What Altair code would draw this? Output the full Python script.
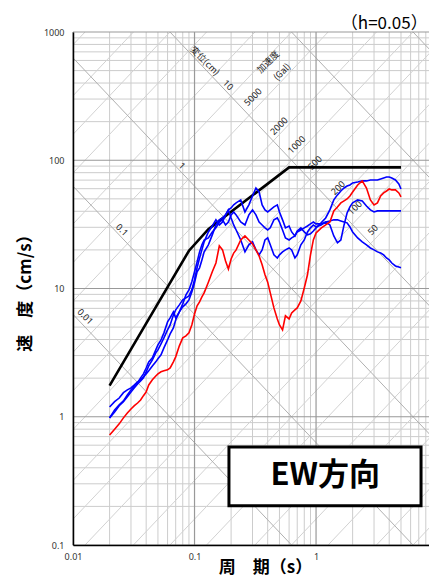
import math
import altair as alt
import pandas as pd

# ---------------- data ----------------
PERIODS = [0.02, 0.022, 0.024, 0.026, 0.028, 0.03, 0.032, 0.034, 0.036, 0.038,
           0.04, 0.042, 0.045, 0.048, 0.05, 0.053, 0.056, 0.06, 0.063, 0.067,
           0.07, 0.075, 0.08, 0.085, 0.09, 0.095, 0.1, 0.105, 0.11, 0.115,
           0.12, 0.13, 0.14, 0.15, 0.16, 0.17, 0.18, 0.19, 0.2, 0.21,
           0.22, 0.24, 0.26, 0.28, 0.3, 0.32, 0.34, 0.36, 0.38, 0.4,
           0.42, 0.45, 0.48, 0.5, 0.53, 0.56, 0.6, 0.63, 0.67, 0.7,
           0.75, 0.8, 0.85, 0.9, 0.95, 1.0, 1.1, 1.2, 1.3, 1.4,
           1.5, 1.6, 1.7, 1.8, 1.9, 2.0, 2.2, 2.4, 2.6, 2.8,
           3.0, 3.2, 3.4, 3.6, 3.8, 4.0, 4.2, 4.5, 4.8, 5.0]

RED = [0.72, 0.80, 0.88, 0.98, 1.07, 1.15, 1.22, 1.28, 1.35, 1.46,
       1.56, 1.77, 1.94, 2.08, 2.16, 2.24, 2.28, 2.32, 2.40, 2.68,
       2.93, 3.57, 4.12, 4.27, 4.51, 5.20, 6.34, 7.32, 7.86, 8.60,
       9.24, 11.2, 13.5, 15.8, 21.5, 20.0, 16.4, 14.2, 17.0, 18.9,
       20.0, 23.9, 25.7, 23.9, 22.3, 20.0, 17.9, 15.3, 12.8, 11.2,
       9.24, 7.06, 5.79, 5.20, 4.76, 6.12, 5.79, 6.45, 6.81, 7.06,
       8.00, 10.1, 12.8, 18.3, 23.9, 27.1, 29.6, 31.3, 33.0, 40.2,
       43.2, 46.5, 48.2, 49.9, 52.7, 56.6, 64.2, 69.0, 60.8, 49.0,
       44.8, 46.5, 52.7, 55.6, 57.6, 59.7, 58.7, 58.7, 55.6, 51.8]

BLUE_1 = [1.19, 1.31, 1.40, 1.54, 1.62, 1.68, 1.77, 1.87, 1.94, 2.05,
          2.16, 2.28, 2.49, 2.68, 2.83, 3.04, 3.44, 3.97, 4.43, 4.93,
          5.69, 6.57, 7.19, 7.59, 8.15, 9.40, 11.1, 13.5, 14.5, 16.7,
          19.3, 21.9, 26.2, 31.3, 34.3, 35.5, 37.5, 41.0, 42.5, 44.9,
          46.5, 49.1, 39.5, 44.9, 52.7, 60.8, 56.6, 44.9, 41.0, 39.5,
          41.0, 43.3, 44.9, 39.5, 34.3, 29.7, 30.7, 27.6, 25.7, 28.1,
          29.7, 27.6, 26.2, 26.7, 28.1, 29.7, 32.5, 35.5, 41.0, 49.1,
          53.7, 57.6, 60.8, 63.0, 64.2, 66.5, 67.7, 69.0, 69.0, 70.2,
          70.2, 70.2, 71.5, 72.8, 74.1, 74.1, 72.8, 70.2, 65.3, 59.7]

BLUE_2 = [0.98, 1.09, 1.22, 1.31, 1.43, 1.56, 1.68, 1.80, 1.90, 2.01,
          2.24, 2.49, 2.78, 3.15, 3.32, 3.70, 4.12, 4.76, 5.20, 6.22,
          6.81, 7.45, 8.15, 8.45, 8.75, 9.75, 11.7, 14.5, 17.3, 20.0,
          23.1, 27.6, 30.7, 34.3, 31.3, 33.0, 37.5, 41.0, 35.5, 31.3,
          28.6, 23.9, 19.3, 21.9, 23.1, 20.0, 18.3, 20.0, 23.9, 24.8,
          21.9, 18.3, 17.3, 18.3, 19.3, 20.0, 20.7, 20.0, 17.3, 18.3,
          21.9, 23.9, 27.6, 29.7, 31.3, 30.2, 31.3, 33.0, 31.3, 25.7,
          22.7, 23.9, 31.3, 38.8, 43.3, 46.5, 49.1, 48.2, 44.0, 41.0,
          39.5, 40.3, 40.3, 40.3, 40.3, 40.3, 40.3, 40.3, 40.3, 40.3]

BLUE_3 = [0.98, 1.13, 1.24, 1.33, 1.48, 1.62, 1.74, 1.84, 2.01, 2.16,
          2.40, 2.68, 2.88, 3.32, 3.63, 3.97, 4.51, 5.49, 5.90, 6.57,
          5.90, 6.57, 7.59, 8.91, 9.75, 11.3, 13.5, 16.1, 19.3, 21.9,
          23.9, 24.8, 27.6, 29.7, 33.0, 34.3, 31.3, 33.0, 37.5, 39.5,
          37.5, 33.0, 31.3, 37.5, 41.0, 37.5, 33.0, 31.3, 29.7, 28.6,
          29.7, 34.3, 35.5, 33.0, 28.6, 24.8, 23.9, 24.8, 25.7, 27.6,
          28.6, 29.7, 30.7, 31.9, 33.0, 31.9, 31.9, 33.0, 33.6, 34.3,
          34.3, 33.6, 33.0, 32.5, 30.2, 27.6, 24.8, 23.1, 21.9, 20.7,
          20.0, 19.3, 18.9, 18.3, 17.3, 16.7, 15.8, 15.0, 14.7, 14.5]

DESIGN_T = [0.02, 0.09, 0.13, 0.6, 5.0]
DESIGN_V = [1.75, 19.7, 29.0, 88.0, 88.0]

X_TICKS = [0.01, 0.1, 1]
Y_TICKS = [0.1, 1, 10, 100, 1000]
X_DOMAIN = [0.01, 8.5]
Y_DOMAIN = [0.1, 1000]

DISP_VALUES = [0.01, 0.1, 1, 10, 100, 1000]            # cm
ACC_MANT = [1, 2, 5]
ACC_EXP = [-1, 0, 1, 2, 3, 4, 5]                        # Gal

DISP_LABELS = ["0.01", "0.1", "1", "10"]
DISP_LABEL_T = [0.0126, 0.0253, 0.0789, 0.189]
DISP_LABEL_V = [6.04, 28.6, 90.3, 386]

ACC_LABELS = ["5000", "2000", "1000", "500", "200", "100", "50"]
ACC_LABEL_T = [0.303, 0.496, 0.693, 0.981, 1.52, 2.09, 2.94]
ACC_LABEL_V = [311, 185, 132, 95.3, 60.8, 42.5, 28.6]

# ---------------- tables ----------------
FONT = "Noto Sans CJK JP"

curves = pd.DataFrame({
    "T": PERIODS * 4,
    "V": BLUE_1 + BLUE_2 + BLUE_3 + RED,
    "series": ["b1"] * len(PERIODS) + ["b2"] * len(PERIODS) + ["b3"] * len(PERIODS) + ["red"] * len(PERIODS),
})
design = pd.DataFrame({"T": DESIGN_T, "V": DESIGN_V})

minor_x, major_x = [], []
for k in [-2, -1, 0]:
    for m in range(1, 10):
        v = m * 10 ** k
        if v <= X_DOMAIN[1]:
            (major_x if m == 1 else minor_x).append(v)
minor_y, major_y = [], []
for k in [-1, 0, 1, 2]:
    for m in range(1, 10):
        (major_y if m == 1 else minor_y).append(m * 10 ** k)
major_y.append(1000)

grid_vx_minor = pd.DataFrame({"T": minor_x})
grid_vx_major = pd.DataFrame({"T": major_x})
grid_hy_minor = pd.DataFrame({"V": minor_y})
grid_hy_major = pd.DataFrame({"V": major_y})

ends = [0.001, 100.0]
disp_rows = []
for i, d in enumerate(DISP_VALUES):
    for t in ends:
        disp_rows.append({"T": t, "V": 2 * math.pi * d / t, "id": f"d{i}"})
acc_rows = []
for e in ACC_EXP:
    for m in ACC_MANT:
        a = m * 10 ** e
        for t in ends:
            acc_rows.append({"T": t, "V": a * t / (2 * math.pi), "id": f"a{m}_{e}"})
disp_df = pd.DataFrame(disp_rows)
acc_df = pd.DataFrame(acc_rows)

disp_lab = pd.DataFrame({"T": DISP_LABEL_T, "V": DISP_LABEL_V, "label": DISP_LABELS})
acc_lab = pd.DataFrame({"T": ACC_LABEL_T, "V": ACC_LABEL_V, "label": ACC_LABELS})
disp_name = pd.DataFrame({"T": [0.122], "V": [594], "label": ["変位(cm)"]})
acc_name = pd.DataFrame({"T": [0.403, 0.525], "V": [583, 488], "label": ["加速度", "(Gal)"]})

box = pd.DataFrame({"T": [0.192], "T2": [7.31], "V": [0.582], "V2": [0.202]})
box_text = pd.DataFrame({"T": [1.19], "V": [0.343], "label": ["EW方向"]})
h_text = pd.DataFrame({"T": [1.6], "V": [1160], "label": ["（h=0.05）"]})

# ---------------- encodings ----------------
xs = alt.Scale(type="log", domain=X_DOMAIN)
ys = alt.Scale(type="log", domain=Y_DOMAIN)
x_axis = alt.Axis(values=X_TICKS, format="~g", grid=False, ticks=False,
                  domainColor="#000000", domainWidth=1.5, labelFontSize=9,
                  labelColor="#333333", labelFont="Noto Sans", labelPadding=7,
                  labelFlush=False, zindex=2,
                  title="周　期（s）", titleFont=FONT, titleFontSize=17,
                  titleFontWeight="bold", titleColor="#000000",
                  titleX=192, titleY=22, titleAlign="center", titleBaseline="middle")
y_axis = alt.Axis(values=Y_TICKS, format="~g", grid=False, ticks=False,
                  domainColor="#000000", domainWidth=1.5, labelFontSize=9,
                  labelColor="#333333", labelFont="Noto Sans", labelPadding=9,
                  labelFlush=False, zindex=2,
                  title="速　度（cm/s）", titleFont=FONT, titleFontSize=17,
                  titleFontWeight="bold", titleColor="#000000",
                  titleX=-48, titleY=256.5, titleAngle=270,
                  titleAlign="center", titleBaseline="middle")
X = alt.X("T:Q", scale=xs, axis=x_axis)
Y = alt.Y("V:Q", scale=ys, axis=y_axis)

layers = [
    alt.Chart(grid_vx_minor).mark_rule(color="#cccccc", strokeWidth=1).encode(x=X),
    alt.Chart(grid_hy_minor).mark_rule(color="#cccccc", strokeWidth=1).encode(y=Y),
    alt.Chart(acc_df).mark_line(clip=True, color="#d2d2d2", strokeWidth=1).encode(x=X, y=Y, detail="id:N"),
    alt.Chart(disp_df).mark_line(clip=True, color="#b0b0b0", strokeWidth=1).encode(x=X, y=Y, detail="id:N"),
    alt.Chart(grid_vx_major).mark_rule(color="#999999", strokeWidth=1.2).encode(x=X),
    alt.Chart(grid_hy_major).mark_rule(color="#999999", strokeWidth=1.2).encode(y=Y),
    alt.Chart(disp_lab).mark_text(angle=45, fontSize=9, font="Noto Sans", color="#222222").encode(x=X, y=Y, text="label:N"),
    alt.Chart(disp_name).mark_text(angle=45, fontSize=9, font=FONT, color="#222222").encode(x=X, y=Y, text="label:N"),
    alt.Chart(acc_lab).mark_text(angle=315, fontSize=9, font="Noto Sans", color="#222222").encode(x=X, y=Y, text="label:N"),
    alt.Chart(acc_name).mark_text(angle=315, fontSize=9, font=FONT, color="#222222").encode(x=X, y=Y, text="label:N"),
    alt.Chart(design).mark_line(color="#000000", strokeWidth=2.6).encode(x=X, y=Y),
    alt.Chart(curves).mark_line(strokeWidth=1.6, clip=True).encode(
        x=X, y=Y,
        color=alt.Color("series:N", legend=None,
                        scale=alt.Scale(domain=["b1", "b2", "b3", "red"],
                                        range=["#0000ff", "#0000ff", "#0000ff", "#ff0000"])),
        order=alt.Order("T:Q")),
    alt.Chart(box).mark_rect(fill="#ffffff", stroke="#000000", strokeWidth=3).encode(
        x=X, x2=alt.X2("T2:Q"), y=Y, y2=alt.Y2("V2:Q")),
    alt.Chart(box_text).mark_text(fontSize=31, fontWeight="bold", font=FONT, color="#000000").encode(x=X, y=Y, text="label:N"),
    alt.Chart(h_text).mark_text(align="left", baseline="middle", fontSize=17, font=FONT, color="#000000").encode(x=X, y=Y, text="label:N"),
]

chart = alt.layer(*layers).properties(
    width=356, height=513,
    autosize=alt.AutoSizeParams(type="none"),
    padding={"left": 65, "top": 24, "right": 0, "bottom": 32},
    background="#ffffff",
).configure_view(stroke=None)

chart.save("out.html", embed_options={"renderer": "svg", "actions": False})
